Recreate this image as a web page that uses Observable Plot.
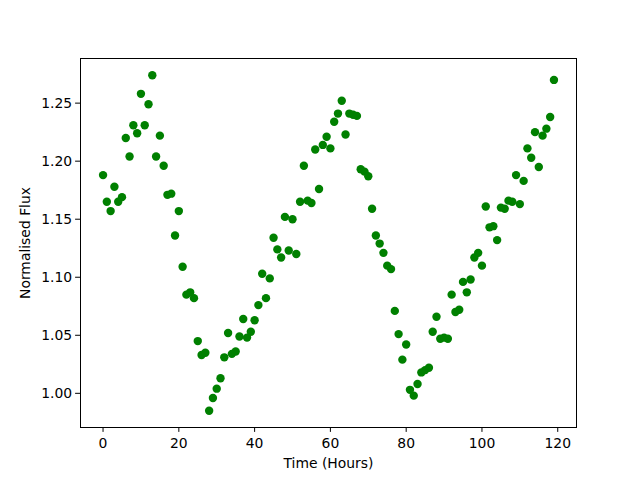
<!DOCTYPE html>
<html>
<head>
<meta charset="utf-8">
<script src="https://cdn.jsdelivr.net/npm/d3@7"></script>
<script src="https://cdn.jsdelivr.net/npm/@observablehq/plot@0.6"></script>
<style>
  html, body { margin: 0; padding: 0; background: #fff; }
</style>
</head>
<body>
<div id="chart"></div>
<script>
const hours = d3.range(0, 120);
const flux = [
  1.188, 1.165, 1.157, 1.178, 1.165, 1.169, 1.220, 1.204, 1.231, 1.224,
  1.258, 1.231, 1.249, 1.274, 1.204, 1.222, 1.196, 1.171, 1.172, 1.136,
  1.157, 1.109, 1.085, 1.087, 1.082, 1.045, 1.033, 1.035, 0.985, 0.996,
  1.004, 1.013, 1.031, 1.052, 1.034, 1.036, 1.049, 1.064, 1.048, 1.053,
  1.063, 1.076, 1.103, 1.082, 1.099, 1.134, 1.124, 1.117, 1.152, 1.123,
  1.150, 1.120, 1.165, 1.196, 1.166, 1.164, 1.210, 1.176, 1.214, 1.221,
  1.211, 1.234, 1.241, 1.252, 1.223, 1.241, 1.240, 1.239, 1.193, 1.191,
  1.187, 1.159, 1.136, 1.129, 1.121, 1.110, 1.107, 1.071, 1.051, 1.029,
  1.042, 1.003, 0.998, 1.008, 1.018, 1.020, 1.022, 1.053, 1.066, 1.047,
  1.048, 1.047, 1.085, 1.070, 1.072, 1.096, 1.087, 1.098, 1.117, 1.121,
  1.110, 1.161, 1.143, 1.144, 1.132, 1.160, 1.159, 1.166, 1.165, 1.188,
  1.163, 1.183, 1.211, 1.203, 1.225, 1.195, 1.222, 1.228, 1.238, 1.270
];
const xTicks = [0, 20, 40, 60, 80, 100, 120];
const yTicks = [1.00, 1.05, 1.10, 1.15, 1.20, 1.25];

const data = hours.map((h, i) => ({hour: h, flux: flux[i]}));

const xmin = d3.min(hours), xmax = d3.max(hours);
const ymin = d3.min(flux), ymax = d3.max(flux);
const xpad = (xmax - xmin) * 0.05, ypad = (ymax - ymin) * 0.05;

const chart = Plot.plot({
  width: 640,
  height: 480,
  marginLeft: 80,
  marginRight: 64,
  marginTop: 58,
  marginBottom: 53,
  style: {fontFamily: "DejaVu Sans", fontSize: "13.9px", color: "black", background: "white"},
  x: {domain: [xmin - xpad, xmax + xpad]},
  y: {domain: [ymin - ypad, ymax + ypad]},
  marks: [
    Plot.frame({stroke: "black", strokeWidth: 1}),
    Plot.axisX({ticks: xTicks, tickSize: 4.9, tickPadding: 6, tickFormat: d3.format("d"),
      label: "Time (Hours)", labelAnchor: "center", labelArrow: "none", labelOffset: 40}),
    Plot.axisY({ticks: yTicks, tickSize: 4.9, tickPadding: 3.5, tickFormat: d3.format(".2f"),
      label: "Normalised Flux", labelAnchor: "center", labelArrow: "none", labelOffset: 60}),
    Plot.dot(data, {x: "hour", y: "flux", r: 4.2, fill: "green", stroke: "none"})
  ]
});
document.getElementById("chart").appendChild(chart);
</script>
</body>
</html>
